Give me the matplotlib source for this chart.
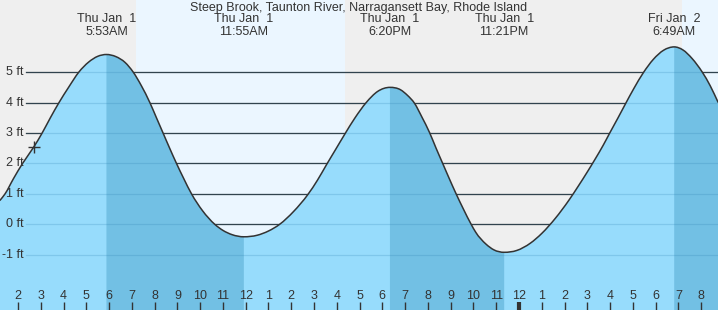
import numpy as np
import matplotlib.pyplot as plt
from matplotlib.path import Path
from matplotlib.patches import PathPatch

# tidevann, timer fra midnatt 1. jan
tide_t = [1.2, 1.43, 1.8, 2.2, 2.7, 3.06, 3.42, 3.8, 4.22, 4.67, 5.1, 5.5, 5.883,
          6.3, 6.7, 7.06, 7.42, 7.79, 8.08, 8.37, 8.66, 8.96, 9.28, 9.62, 10.1, 10.64, 11.0, 11.4, 11.917,
          12.5, 13.0, 13.49, 14.1, 14.73, 15.15, 15.54, 15.94, 16.34, 16.8, 17.29, 17.8, 18.333,
          18.8, 19.1, 19.41, 19.74, 20.07, 20.36, 20.65, 20.94, 21.24, 21.56, 21.9, 22.1, 22.55, 22.9, 23.35,
          23.9, 24.5, 25.0, 25.6, 26.2, 26.6, 27.0, 27.35, 27.7, 28.0, 28.35, 28.67, 29.05, 29.46, 29.9, 30.35, 30.817,
          31.2, 31.6, 32.05, 32.4, 32.75]
tide_ft = [0.78, 1.0, 1.5, 2.0, 2.55, 3.0, 3.5, 4.0, 4.5, 5.0, 5.33, 5.52, 5.58,
           5.51, 5.32, 5.0, 4.55, 4.0, 3.5, 3.0, 2.5, 2.0, 1.5, 1.0, 0.45, 0.0, -0.2, -0.34, -0.41,
           -0.36, -0.22, 0.0, 0.42, 0.98, 1.45, 1.95, 2.45, 2.95, 3.5, 4.0, 4.37, 4.5,
           4.42, 4.24, 3.98, 3.52, 3.02, 2.5, 2.0, 1.5, 1.0, 0.5, 0.0, -0.26, -0.65, -0.84, -0.92,
           -0.86, -0.62, -0.3, 0.2, 0.8, 1.25, 1.72, 2.15, 2.6, 3.02, 3.5, 3.95, 4.47, 4.98, 5.42, 5.72, 5.83,
           5.73, 5.45, 5.0, 4.55, 4.0]

# hoy- og lavvann med etiketter
ext_t = [5.883, 11.917, 18.333, 23.35, 30.817]
ext_day = ['Thu Jan  1', 'Thu Jan  1', 'Thu Jan  1', 'Thu Jan  1', 'Fri Jan  2']
ext_time = ['5:53AM', '11:55AM', '6:20PM', '11:21PM', '6:49AM']

# dagslys (soloppgang, solnedgang)
day_start = [7.18, 31.17]
day_end = [16.38, 34.0]

hours = list(range(2, 33))
hour_labels = [str((h - 1) % 12 + 1) for h in hours]
ft_levels = [-1, 0, 1, 2, 3, 4, 5]

title = 'Steep Brook, Taunton River, Narragansett Bay, Rhode Island'

night_col = '#efefef'
day_col = '#ebf6ff'
light_fill = '#97dcfc'
dark_fill = '#72c0e4'
txt_col = '#333333'
font = 'Liberation Sans'

t = np.array(tide_t)
f = np.array(tide_ft)
ext_idx = [int(np.argmin(np.abs(t - e))) for e in ext_t]

# helning i hvert punkt, flat ved hoy/lav
m = np.gradient(f, t)
m[ext_idx] = 0.0


def kurve(i0, i1):
    verts = [(t[i0], f[i0])]
    codes = [Path.MOVETO]
    for i in range(i0, i1):
        dt = t[i + 1] - t[i]
        verts += [(t[i] + dt / 3, f[i] + m[i] * dt / 3),
                  (t[i + 1] - dt / 3, f[i + 1] - m[i + 1] * dt / 3),
                  (t[i + 1], f[i + 1])]
        codes += [Path.CURVE4] * 3
    return verts, codes


def fyll(i0, i1, farge):
    verts, codes = kurve(i0, i1)
    verts += [(t[i1], -3), (t[i0], -3), (t[i0], f[i0])]
    codes += [Path.LINETO, Path.LINETO, Path.CLOSEPOLY]
    return PathPatch(Path(verts, codes), facecolor=farge, lw=0, zorder=2)


fig = plt.figure(figsize=(7.18, 3.10), dpi=100, facecolor=night_col)
ax = fig.add_axes([0, 0, 1, 1])
ax.axis('off')
ax.set_xlim(1.209, 32.74)
ax.set_ylim(-2.816, 7.371)

for a, b in zip(day_start, day_end):
    ax.axvspan(a, b, color=day_col, lw=0, zorder=0)

# gridlinjer bak kurven
for lv in ft_levels:
    ax.axhline(lv, xmin=26 / 718, xmax=1, color=txt_col, lw=0.9, zorder=1)

n = len(t) - 1
ax.add_patch(fyll(0, n, light_fill))
# fallende tidevann i morkere farge
ax.add_patch(fyll(ext_idx[0], ext_idx[1], dark_fill))
ax.add_patch(fyll(ext_idx[2], ext_idx[3], dark_fill))
ax.add_patch(fyll(ext_idx[4], n, dark_fill))

# gridlinjer over fyllet
for lv in ft_levels:
    ax.axhline(lv, xmin=26 / 718, xmax=1, color='#2a7fb0', alpha=0.22, lw=0.9, zorder=3)

v, c = kurve(0, n)
ax.add_patch(PathPatch(Path(v, c), fill=False, edgecolor=txt_col, lw=1.1, zorder=4))
ax.plot([2.7], [2.55], marker='+', color=txt_col, ms=9, mew=1.0, zorder=5)

for lv in ft_levels:
    ax.text(24 / 718, lv, f'{lv} ft', transform=ax.get_yaxis_transform(), ha='right', va='center',
            fontsize=9, color=txt_col, family=font, zorder=6)

xtr = ax.get_xaxis_transform()
for h, lab in zip(hours, hour_labels):
    ax.text(h, 1 - 296 / 310, lab, transform=xtr, ha='center', va='center', fontsize=9,
            color=txt_col, family=font, zorder=6)
    w = 3 if h == 24 else 1
    ax.plot([h, h], [0, 8 / 310], transform=xtr, color=txt_col, lw=w, solid_capstyle='butt', zorder=6)

for x, d, tm in zip(ext_t, ext_day, ext_time):
    ax.text(x, 1 - 19 / 310, d, transform=xtr, ha='center', va='center', fontsize=9,
            color=txt_col, family=font, zorder=6)
    ax.text(x, 1 - 32 / 310, tm, transform=xtr, ha='center', va='center', fontsize=9,
            color=txt_col, family=font, zorder=6)

ax.text(0.5, 1 - 8 / 310, title, transform=ax.transAxes, ha='center', va='center', fontsize=9,
        color=txt_col, family=font, zorder=6)

fig.savefig('out.png', dpi=100, facecolor=night_col)
